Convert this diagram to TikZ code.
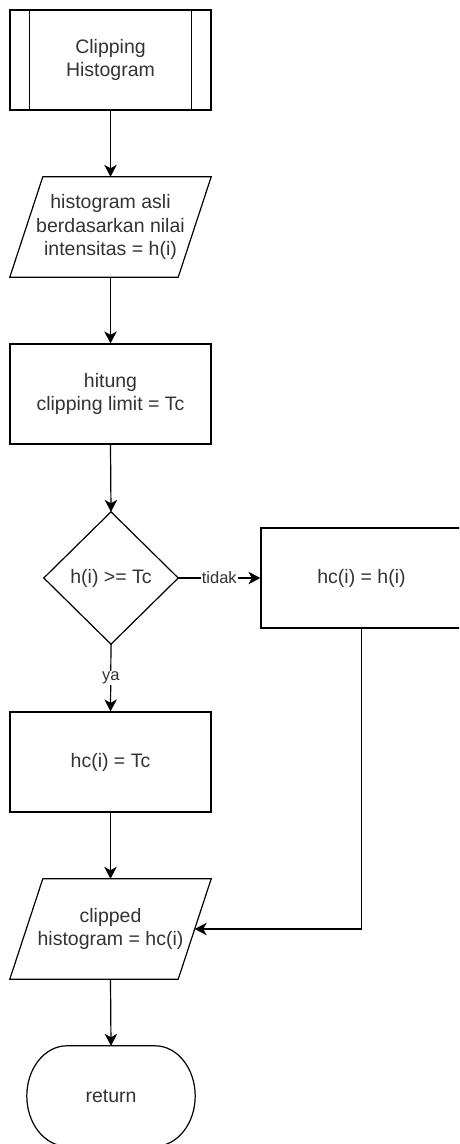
\documentclass[tikz,border=0pt]{standalone}
\usepackage{fontspec}
\setmainfont{Liberation Sans}
\usetikzlibrary{arrows.meta,calc}
\definecolor{txtgray}{HTML}{333333}
\tikzset{
  outline/.style={draw=black, line width=1.2pt},
  txt/.style={text=txtgray, align=center, inner sep=0pt,
    font=\fontsize{19.5}{23.5}\selectfont},
  box/.style={txt, outline, minimum width=201pt, minimum height=100pt},
  conn/.style={draw=black, line width=1.2pt,
    -{Stealth[length=12pt,width=12.5pt,inset=3.5pt]}},
  lbl/.style={text=txtgray, fill=white, inner sep=1pt,
    font=\fontsize{16.5}{19}\selectfont}
}
\begin{document}
\begin{tikzpicture}[x=1pt,y=-1pt]
\useasboundingbox (0,0) rectangle (459,1144);
\clip (0,0) rectangle (459,1144);
\fill[white] (0,0) rectangle (459,1144);

% predefined process
\node[box] (A) at (110.5,60) {Clipping\\Histogram};
\draw[outline] ($(A.north west)+(20,0)$) -- ($(A.south west)+(20,0)$);
\draw[outline] ($(A.north east)+(-20,0)$) -- ($(A.south east)+(-20,0)$);

% input parallelogram
\node[txt, minimum width=168pt, minimum height=100pt] (B) at (110.5,227)
  {histogram asli\\berdasarkan nilai\\intensitas = h(i)};
\draw[outline] ($(B.south west)+(-16.5,0)$) -- ($(B.north west)+(16.5,0)$)
  -- ($(B.north east)+(16.5,0)$) -- ($(B.south east)+(-16.5,0)$) -- cycle;

% clipping limit
\node[box] (C) at (110.5,394) {hitung\\clipping limit = Tc};

% decision
\node[txt, minimum width=134pt, minimum height=132pt] (D) at (111,578) {h(i) >= Tc};
\draw[outline] (D.north) -- (D.east) -- (D.south) -- (D.west) -- cycle;

% branches
\node[box] (E) at (361.5,578) {hc(i) = h(i)};
\node[box] (F) at (110.5,762) {hc(i) = Tc};

% output parallelogram
\node[txt, minimum width=168pt, minimum height=100pt] (G) at (110.5,929)
  {clipped\\histogram = hc(i)};
\draw[outline] ($(G.south west)+(-16.5,0)$) -- ($(G.north west)+(16.5,0)$)
  -- ($(G.north east)+(16.5,0)$) -- ($(G.south east)+(-16.5,0)$) -- cycle;

% terminator
\node[txt, minimum width=168pt, minimum height=100pt] (H) at (111,1096) {return};
\draw[outline] ($(H.north west)+(40,0)$) -- ($(H.north east)+(-40,0)$)
  .. controls ($(H.north east)+(-17.9,0)$) and ($(H.east)+(0,-27.6)$) .. (H.east)
  .. controls ($(H.east)+(0,27.6)$) and ($(H.south east)+(-17.9,0)$) .. ($(H.south east)+(-40,0)$)
  -- ($(H.south west)+(40,0)$)
  .. controls ($(H.south west)+(17.9,0)$) and ($(H.west)+(0,27.6)$) .. (H.west)
  .. controls ($(H.west)+(0,-27.6)$) and ($(H.north west)+(17.9,0)$) .. cycle;

% connectors
\draw[conn] (A.south) -- (B.north);
\draw[conn] (B.south) -- (C.north);
\draw[conn] (C.south) -- (D.north);
\draw[conn] (D.east) -- node[lbl] {tidak} (E.west);
\draw[conn] (D.south) -- node[lbl] {ya} (F.north);
\draw[conn] (F.south) -- (G.north);
\draw[conn] (E.south) |- (G.east);
\draw[conn] (G.south) -- (H.north);
\end{tikzpicture}
\end{document}
